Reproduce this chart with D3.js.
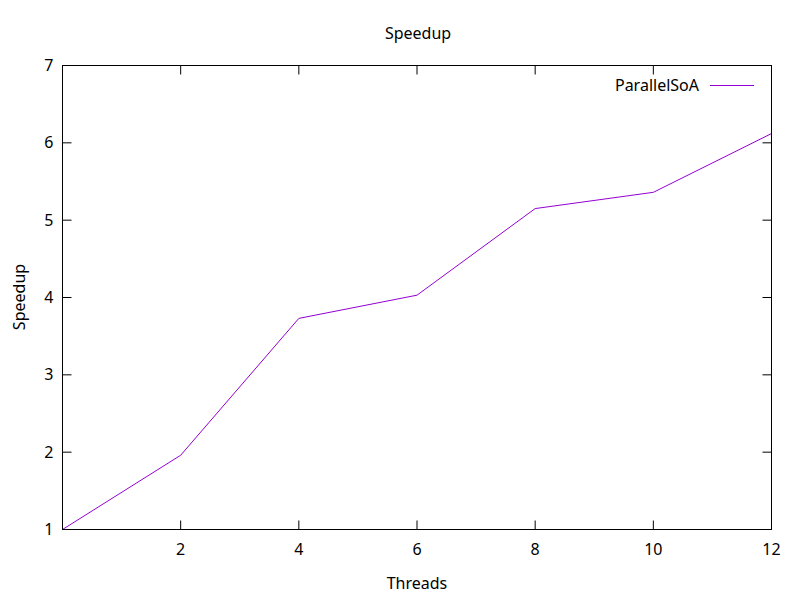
<!DOCTYPE html>
<html>
<head>
<meta charset="utf-8">
<script src="https://cdn.jsdelivr.net/npm/d3@7"></script>
<style>
  body { margin: 0; background: #fff; }
  text { font-family: "Noto Sans", "Open Sans", sans-serif; font-size: 16px; fill: #000; }
</style>
</head>
<body>
<div id="chart"></div>
<script>
// values
var threads = [0, 2, 4, 6, 8, 10, 12];
var speedup = [1, 1.96, 3.73, 4.03, 5.15, 5.36, 6.12];
var xTicks = [2, 4, 6, 8, 10, 12];
var yTicks = [1, 2, 3, 4, 5, 6, 7];
var seriesName = 'ParallelSoA';
var lineColor = '#9400d3';

var width = 800, height = 600;
var margin = { top: 65.5, right: 28.5, bottom: 70.5, left: 62.5 };
var tickLen = 9;

var svg = d3.select('#chart').append('svg')
	.attr('width', width)
	.attr('height', height);

var x = d3.scaleLinear().domain([0, 12]).range([margin.left, width - margin.right]);
var y = d3.scaleLinear().domain([1, 7]).range([height - margin.bottom, margin.top]);

// ticks, mirrored on all four sides like gnuplot
var axes = svg.append('g').attr('stroke', '#000').attr('stroke-width', 1);

axes.selectAll('.ytl').data(yTicks).enter().append('line')
	.attr('x1', margin.left).attr('x2', margin.left + tickLen)
	.attr('y1', function(d) { return y(d); }).attr('y2', function(d) { return y(d); });
axes.selectAll('.ytr').data(yTicks).enter().append('line')
	.attr('x1', width - margin.right).attr('x2', width - margin.right - tickLen)
	.attr('y1', function(d) { return y(d); }).attr('y2', function(d) { return y(d); });
axes.selectAll('.xtb').data(xTicks).enter().append('line')
	.attr('y1', height - margin.bottom).attr('y2', height - margin.bottom - tickLen)
	.attr('x1', function(d) { return x(d); }).attr('x2', function(d) { return x(d); });
axes.selectAll('.xtt').data(xTicks).enter().append('line')
	.attr('y1', margin.top).attr('y2', margin.top + tickLen)
	.attr('x1', function(d) { return x(d); }).attr('x2', function(d) { return x(d); });

svg.append('g').selectAll('text').data(yTicks).enter().append('text')
	.attr('x', margin.left - 9)
	.attr('y', function(d) { return y(d); })
	.attr('dy', '0.35em')
	.attr('text-anchor', 'end')
	.text(function(d) { return d; });

svg.append('g').selectAll('text').data(xTicks).enter().append('text')
	.attr('x', function(d) { return x(d); })
	.attr('y', height - margin.bottom + 20)
	.attr('dy', '0.35em')
	.attr('text-anchor', 'middle')
	.text(function(d) { return d; });

// series
var line = d3.line()
	.x(function(d, i) { return x(threads[i]); })
	.y(function(d) { return y(d); });

svg.append('path')
	.datum(speedup)
	.attr('fill', 'none')
	.attr('stroke', lineColor)
	.attr('stroke-width', 1)
	.attr('d', line);

// frame
svg.append('rect')
	.attr('x', margin.left).attr('y', margin.top)
	.attr('width', width - margin.left - margin.right)
	.attr('height', height - margin.top - margin.bottom)
	.attr('fill', 'none')
	.attr('stroke', '#000');

// legend
svg.append('text')
	.attr('x', 699).attr('y', 85).attr('dy', '0.35em')
	.attr('text-anchor', 'end')
	.text(seriesName);
svg.append('line')
	.attr('x1', 710).attr('x2', 754)
	.attr('y1', 85.5).attr('y2', 85.5)
	.attr('stroke', lineColor);

// titles
svg.append('text')
	.attr('x', 418).attr('y', 33).attr('dy', '0.35em')
	.attr('text-anchor', 'middle')
	.text('Speedup');
svg.append('text')
	.attr('x', 417).attr('y', 583).attr('dy', '0.35em')
	.attr('text-anchor', 'middle')
	.text('Threads');
svg.append('text')
	.attr('transform', 'translate(19,297) rotate(-90)')
	.attr('dy', '0.35em')
	.attr('text-anchor', 'middle')
	.text('Speedup');
</script>
</body>
</html>
